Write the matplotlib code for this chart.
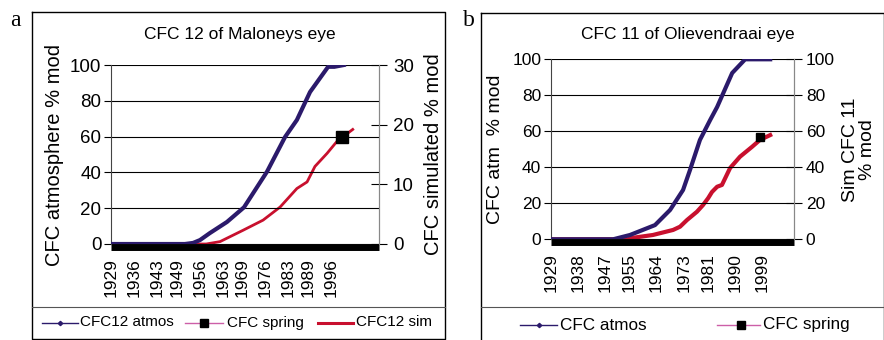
import matplotlib
matplotlib.use("Agg")
import matplotlib.pyplot as plt
import matplotlib.transforms as mtrans
from matplotlib.lines import Line2D

plt.rcParams['font.family'] = ['Liberation Sans', 'DejaVu Sans']

# ---------------- data: panel a (CFC 12, Maloneys eye) ----------------
a_range = [1929, 2010.6]
a_ticks = [1929, 1936, 1943, 1949, 1956, 1963, 1969, 1976, 1983, 1989, 1996]
a_atm_years = [1929, 1951.5, 1954, 1956.1, 1959.1, 1964.3, 1969.5, 1976.5, 1982, 1985.6, 1989.6, 1995.1, 1997, 1999.9]
a_atm_vals = [0, 0, 0.6, 2.2, 6.1, 12.3, 20.5, 40.4, 59.8, 69.3, 84.9, 99, 99, 100]
a_sim_years = [1929, 1958, 1962.2, 1969.2, 1975.3, 1980.5, 1985.6, 1988.7, 1991.1, 1994.8, 1997.8, 2002.6]
a_sim_vals = [0, 0, 0.4, 2.3, 4.0, 6.2, 9.3, 10.4, 13.0, 15.2, 17.2, 19.2]
a_spring_years = [1999.3]
a_spring_vals = [18]
a_spring_zero = [0, 0]

# ---------------- data: panel b (CFC 11, Olievendraai eye) ----------------
b_range = [1929, 2009.6]
b_ticks = [1929, 1938, 1947, 1955, 1964, 1973, 1981, 1990, 1999]
b_atm_years = [1929, 1949.6, 1955.2, 1963.5, 1968.5, 1972.8, 1975.1, 1978.4, 1981.8, 1984.1, 1989.1, 1993.4, 2001.7]
b_atm_vals = [0, 0, 2.4, 7.9, 16.3, 27.4, 38.5, 55.2, 66.3, 73.5, 92.4, 100, 100]
b_sim_years = [1929, 1954.5, 1955.2, 1962.8, 1969.5, 1971.8, 1974.1, 1977.4, 1979.4, 1981.1, 1982.4,
               1984.1, 1985.7, 1988.4, 1991.7, 1995.7, 1998.3, 2001.7]
b_sim_vals = [0, 0, 0.6, 2.4, 5.2, 7.0, 10.7, 15.3, 19.0, 22.8, 26.3, 29.2, 30.2, 39.6, 45.9, 51.4, 55.2, 57.9]
b_spring_years = [1998.3]
b_spring_vals = [56.8]
b_spring_zero = [0, 0]

BLUE = '#2b1a6b'
RED = '#c8102e'
PINK = '#cc5fa8'

W, H = 884, 340
fig = plt.figure(figsize=(W / 100, H / 100), dpi=100)


def fx(px):
    return px / W


def fy(py):
    return 1 - py / H


# panel frames
for (x0, y0, x1, y1, sep_y) in [(32, 12, 445, 339, 306.5), (481, 13, 884, 345, 307)]:
    xs = [fx(x0), fx(x1), fx(x1), fx(x0), fx(x0)]
    ys = [fy(y0), fy(y0), fy(y1), fy(y1), fy(y0)]
    fig.add_artist(Line2D(xs, ys, color='black', lw=1.0, transform=fig.transFigure))
    fig.add_artist(Line2D([fx(x0), fx(x1)], [fy(sep_y), fy(sep_y)], color='#555555', lw=0.8,
                          transform=fig.transFigure))

fig.text(fx(15), fy(20), 'a', family='Liberation Serif', fontsize=17, ha='center', va='center')
fig.text(fx(469), fy(20), 'b', family='Liberation Serif', fontsize=17, ha='center', va='center')


def setup(ax, rng, ticks, ylabel_fs):
    ax.set_xlim(rng)
    ax.set_ylim(0, 100)
    ax.set_yticks([0, 20, 40, 60, 80, 100])
    ax.set_xticks(ticks)
    ax.set_xticklabels([str(t) for t in ticks], rotation=90, fontsize=12.5)
    ax.tick_params(axis='x', length=0, pad=10)
    ax.tick_params(axis='y', direction='out', length=5, width=0.8, labelsize=ylabel_fs, pad=2)
    ax.grid(axis='y', color='black', lw=0.8)
    ax.set_axisbelow(True)
    for s in ['top', 'bottom']:
        ax.spines[s].set_visible(False)
    ax.spines['left'].set_color('#444444')
    ax.spines['right'].set_color('#888888')


# ---------------- panel a ----------------
ax = fig.add_axes([fx(111), fy(244), fx(379) - fx(111), fy(65) - fy(244)])
setup(ax, a_range, a_ticks, 13.5)
ax.set_ylabel('CFC atmosphere % mod', fontsize=14.5, labelpad=4)
axr = ax.twinx()
axr.set_ylim(0, 30)
axr.set_yticks([0, 10, 20, 30])
axr.tick_params(axis='y', direction='inout', length=12, width=0.8, labelsize=13.5, pad=4)
for s in ['top', 'bottom', 'left']:
    axr.spines[s].set_visible(False)
axr.spines['right'].set_color('#888888')
axr.set_ylabel('CFC simulated % mod', fontsize=14.5, labelpad=7)
off = mtrans.offset_copy(ax.transData, fig=fig, x=0, y=-2.5, units='dots')
ax.plot(a_range, a_spring_zero, color='black', lw=5, solid_capstyle='butt', transform=off, clip_on=False, zorder=2)
axr.plot(a_sim_years, a_sim_vals, color=RED, lw=2.0, zorder=3)
ax.plot(a_atm_years, a_atm_vals, color=BLUE, lw=3.0, zorder=4)
axr.plot(a_spring_years, a_spring_vals, 's', color='black', ms=8.5, zorder=5)
ax.set_zorder(axr.get_zorder() + 1)
ax.patch.set_visible(False)
fig.text(fx(240), fy(35), 'CFC 12 of Maloneys eye', fontsize=12.5, ha='center', va='center')

# legend a
lfs_a = 11
ly = fy(322.5)
fig.add_artist(Line2D([fx(42), fx(78)], [ly, ly], color=BLUE, lw=1.0, transform=fig.transFigure))
fig.add_artist(Line2D([fx(60)], [ly], color=BLUE, marker='D', ms=2.2, lw=0, transform=fig.transFigure))
fig.text(fx(80), ly, 'CFC12 atmos', fontsize=lfs_a, va='center')
fig.add_artist(Line2D([fx(185), fx(223)], [ly, ly], color=PINK, lw=1.0, transform=fig.transFigure))
fig.add_artist(Line2D([fx(204)], [ly], color='black', marker='s', ms=6, lw=0, transform=fig.transFigure))
fig.text(fx(227), ly, 'CFC spring', fontsize=lfs_a, va='center')
fig.add_artist(Line2D([fx(318), fx(353)], [ly, ly], color=RED, lw=2.2, transform=fig.transFigure))
fig.text(fx(356), ly, 'CFC12 sim', fontsize=lfs_a, va='center')

# ---------------- panel b ----------------
bx = fig.add_axes([fx(551), fy(239.3), fx(794) - fx(551), fy(59.3) - fy(239.3)])
setup(bx, b_range, b_ticks, 12.5)
bx.set_ylabel('CFC atm  % mod', fontsize=14, labelpad=6)
bxr = bx.twinx()
bxr.set_ylim(0, 100)
bxr.set_yticks([0, 20, 40, 60, 80, 100])
bxr.tick_params(axis='y', direction='inout', length=11, width=0.8, labelsize=12.5, pad=3)
for s in ['top', 'bottom', 'left']:
    bxr.spines[s].set_visible(False)
bxr.spines['right'].set_color('#888888')
bxr.set_ylabel('Sim CFC 11\n% mod', fontsize=14, labelpad=5, linespacing=1.0)
offb = mtrans.offset_copy(bx.transData, fig=fig, x=0, y=-2.5, units='dots')
bx.plot(b_range, b_spring_zero, color='black', lw=5, solid_capstyle='butt', transform=offb, clip_on=False, zorder=2)
bxr.plot(b_sim_years, b_sim_vals, color=RED, lw=3.0, zorder=3)
bx.plot(b_atm_years, b_atm_vals, color=BLUE, lw=3.0, zorder=4)
bxr.plot(b_spring_years, b_spring_vals, 's', color='black', ms=5.5, zorder=5)
bx.set_zorder(bxr.get_zorder() + 1)
bx.patch.set_visible(False)
fig.text(fx(688), fy(35), 'CFC 11 of Olievendraai eye', fontsize=12.5, ha='center', va='center')

# legend b
lfs_b = 12.3
ly = fy(325)
fig.add_artist(Line2D([fx(520), fx(557)], [ly, ly], color=BLUE, lw=1.0, transform=fig.transFigure))
fig.add_artist(Line2D([fx(539)], [ly], color=BLUE, marker='D', ms=2.2, lw=0, transform=fig.transFigure))
fig.text(fx(560), ly, 'CFC atmos', fontsize=lfs_b, va='center')
fig.add_artist(Line2D([fx(717), fx(760)], [ly, ly], color=PINK, lw=1.0, transform=fig.transFigure))
fig.add_artist(Line2D([fx(741)], [ly], color='black', marker='s', ms=5.5, lw=0, transform=fig.transFigure))
fig.text(fx(763), ly, 'CFC spring', fontsize=lfs_b, va='center')

fig.savefig('out.png', dpi=100)
